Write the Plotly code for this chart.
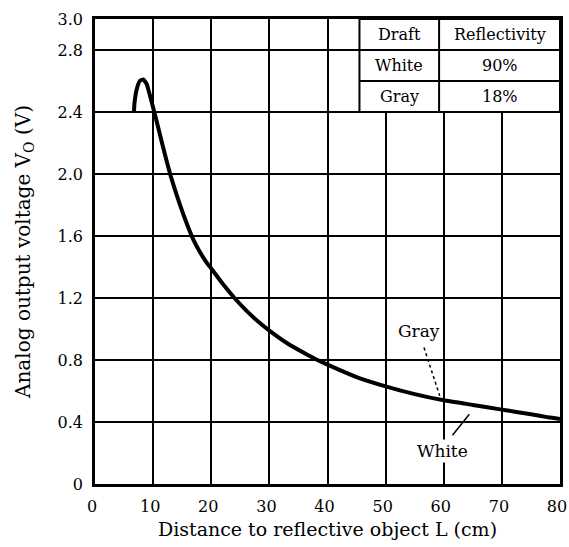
import plotly.graph_objects as go

# Curve data (distance cm, output voltage V)
dist_cm = [6.7, 6.8, 7.2, 7.7, 8.3, 8.9, 9.5, 10.2, 11.0, 12.0, 13.0, 14.0, 15.0, 16.0,
           17.0, 18.0, 19.0, 20.0, 22.0, 24.0, 26.0, 28.0, 30.0, 33.0, 36.0, 38.0, 40.0,
           45.0, 50.0, 55.0, 60.0, 65.0, 70.0, 75.0, 78.0, 80.0]
voltage_v = [2.40, 2.46, 2.55, 2.60, 2.61, 2.58, 2.50, 2.40, 2.28, 2.13, 1.99, 1.87, 1.76, 1.66,
             1.57, 1.50, 1.44, 1.39, 1.29, 1.20, 1.12, 1.05, 0.99, 0.91, 0.845, 0.805, 0.77,
             0.69, 0.63, 0.58, 0.54, 0.51, 0.48, 0.45, 0.43, 0.42]

x_ticks = [0, 10, 20, 30, 40, 50, 60, 70, 80]
y_ticks = [0, 0.4, 0.8, 1.2, 1.6, 2.0, 2.4, 2.8, 3.0]
y_tick_text = ["0", "0.4", "0.8", "1.2", "1.6", "2.0", "2.4", "2.8", "3.0"]

table_header = ["Draft", "Reflectivity"]
table_drafts = ["White", "Gray"]
table_reflect = ["90%", "18%"]

FONT = "DejaVu Serif"

fig = go.Figure()
fig.add_trace(go.Scatter(
    x=dist_cm, y=voltage_v, mode="lines",
    line=dict(color="black", width=4, shape="spline", smoothing=0.4),
    showlegend=False, hoverinfo="skip"))

# Table inset (data coordinates)
tx0, tx1, tx2 = 45.5, 59.2, 80
ty = [3.0, 2.8, 2.6, 2.4]
fig.add_shape(type="rect", x0=tx0, x1=tx2, y0=ty[3], y1=ty[0], xref="x", yref="y",
              fillcolor="white", line=dict(color="black", width=2), layer="above")
for yy in ty[1:3]:
    fig.add_shape(type="line", x0=tx0, x1=tx2, y0=yy, y1=yy, xref="x", yref="y",
                  line=dict(color="black", width=2), layer="above")
fig.add_shape(type="line", x0=tx1, x1=tx1, y0=ty[3], y1=ty[0], xref="x", yref="y",
              line=dict(color="black", width=2), layer="above")
rows = [(table_header[0], table_header[1])] + list(zip(table_drafts, table_reflect))
for i, (a, b) in enumerate(rows):
    yc = (ty[i] + ty[i + 1]) / 2
    fig.add_annotation(x=(tx0 + tx1) / 2, y=yc, text=a, showarrow=False,
                       font=dict(family=FONT, size=16, color="black"))
    fig.add_annotation(x=(tx1 + tx2) / 2, y=yc, text=b, showarrow=False,
                       font=dict(family=FONT, size=16, color="black"))

# Gray / White labels
fig.add_annotation(x=55.7, y=0.99, text="Gray", showarrow=False, bgcolor="white",
                   font=dict(family=FONT, size=17, color="black"))
fig.add_shape(type="line", x0=56.6, y0=0.88, x1=59.3, y1=0.57, xref="x", yref="y",
              line=dict(color="black", width=1.5, dash="dot"))
fig.add_annotation(x=59.7, y=0.21, text="White", showarrow=False, bgcolor="white",
                   font=dict(family=FONT, size=17, color="black"))
fig.add_shape(type="line", x0=61.5, y0=0.315, x1=64.4, y1=0.45, xref="x", yref="y",
              line=dict(color="black", width=1.5))

fig.update_xaxes(range=[0, 80], tickvals=x_ticks, showgrid=True, gridcolor="black",
                 gridwidth=2, zeroline=False, showline=True, linecolor="black",
                 linewidth=2.5, mirror=True, ticks="", ticklabelstandoff=6, automargin=False,
                 ticklabeloverflow="allow", ticklabelshift=-3,
                 tickfont=dict(family=FONT, size=16, color="black"),
                 title=dict(text="Distance to reflective object L (cm)", standoff=8,
                            font=dict(family=FONT, size=19, color="black")))
fig.update_yaxes(range=[0, 3.0], tickvals=y_ticks, ticktext=y_tick_text, showgrid=True,
                 gridcolor="black", gridwidth=2, zeroline=False, showline=True,
                 linecolor="black", linewidth=2.5, mirror=True, ticks="", ticklabelstandoff=6,
                 automargin=False, ticklabeloverflow="allow",
                 tickfont=dict(family=FONT, size=16, color="black"),
                 title=dict(text="Analog output voltage V<sub>O</sub> (V)", standoff=22,
                            font=dict(family=FONT, size=20, color="black")))
fig.update_layout(width=569, height=547, margin=dict(l=95, r=9, t=19, b=63),
                  plot_bgcolor="white", paper_bgcolor="white")
fig.write_html("out.html", config={"displayModeBar": False},
               post_script="document.body.style.margin='0';document.body.style.overflow='hidden';")
